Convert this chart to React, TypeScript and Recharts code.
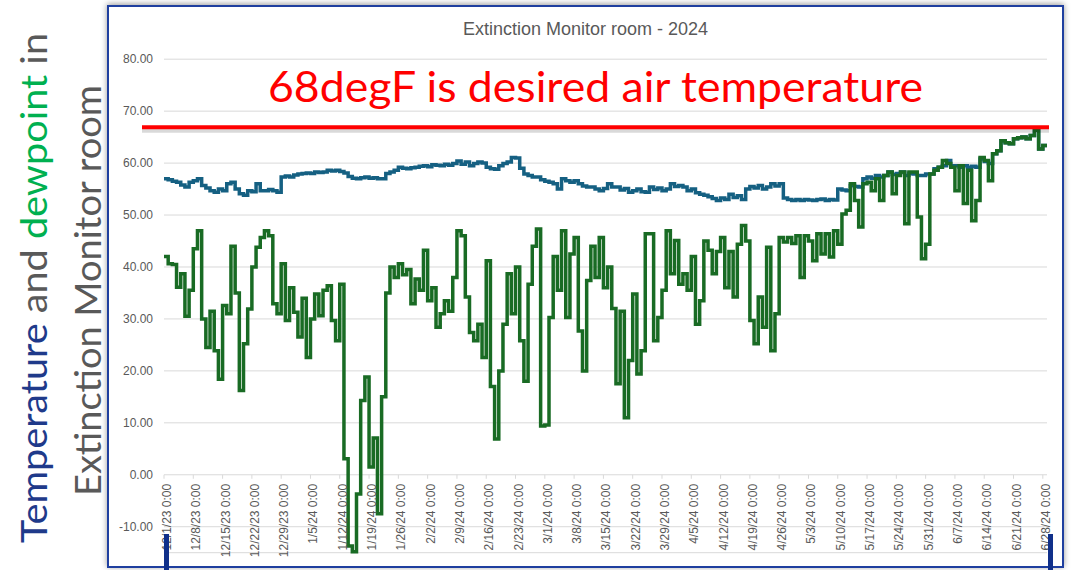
import { CartesianGrid, Line, LineChart, ReferenceLine, XAxis, YAxis } from 'recharts'

// weekly x-axis labels, one every 7 days from 12/1/23
const TICK_LABELS = [
	'12/1/23 0:00', '12/8/23 0:00', '12/15/23 0:00', '12/22/23 0:00', '12/29/23 0:00',
	'1/5/24 0:00', '1/12/24 0:00', '1/19/24 0:00', '1/26/24 0:00', '2/2/24 0:00',
	'2/9/24 0:00', '2/16/24 0:00', '2/23/24 0:00', '3/1/24 0:00', '3/8/24 0:00',
	'3/15/24 0:00', '3/22/24 0:00', '3/29/24 0:00', '4/5/24 0:00', '4/12/24 0:00',
	'4/19/24 0:00', '4/26/24 0:00', '5/3/24 0:00', '5/10/24 0:00', '5/17/24 0:00',
	'5/24/24 0:00', '5/31/24 0:00', '6/7/24 0:00', '6/14/24 0:00', '6/21/24 0:00',
	'6/28/24 0:00',
]

const Y_TICKS = [-10, 0, 10, 20, 30, 40, 50, 60, 70, 80]

// daily readings (degF), one row per week starting 12/1/23
const TEMPERATURE = [
	57, 56.8, 56.5, 56.3, 55.8, 55.4, 56.3,
	56.6, 57, 55.7, 55.2, 54.7, 54.4, 55,
	54.7, 56, 56.3, 55, 54.1, 53.8, 54.7,
	54.5, 56, 54.7, 54.7, 54.9, 54.7, 54.4,
	57.3, 57.5, 57.3, 57.7, 57.9, 58, 58.1,
	58, 58.3, 58.2, 58.3, 58.6, 58.5, 58.6,
	58.4, 58.1, 57.4, 57.1, 57, 57.2, 57.3,
	57.1, 57.2, 57, 57, 58, 58.3, 58.6,
	59.2, 59, 58.9, 59.1, 59.2, 59.4, 59.5,
	59.3, 59.7, 59.6, 59.5, 59.8, 59.6, 59.9,
	60.4, 59.8, 60.2, 59.5, 59.9, 60.2, 60,
	59.2, 58.9, 58.8, 59.5, 59.9, 60.2, 61.1,
	61, 59, 57.9, 57.6, 57.3, 57.3, 56.8,
	56.5, 56.3, 56, 55, 57, 56.6, 56.3,
	56.6, 56, 55.6, 55.4, 55.4, 55, 54.7,
	55.1, 56, 55.4, 55.4, 54.8, 55.1, 54.4,
	54.7, 55, 54.5, 54.4, 55.4, 54.9, 55.2,
	54.7, 55, 56, 55.5, 55.7, 55.4, 54.7,
	55, 54.3, 54, 53.8, 53.5, 53.2, 52.8,
	53.3, 53, 54, 53.4, 53.7, 53, 55,
	55.5, 55.2, 55.7, 55, 55.4, 56, 55.6,
	56, 53.3, 53, 52.8, 53, 52.8, 53,
	52.9, 52.8, 53, 53.1, 52.8, 53, 52.9,
	55, 54.8, 54.7, 55.7, 55.5, 55.4, 57,
	57.3, 57.1, 57.6, 57.3, 57.6, 58.3, 57.8,
	58, 58.3, 57.6, 58, 57.9, 57.6, 57.6,
	57.9, 57.9, 58.9, 59.2, 59.5, 60.5, 59.5,
	59.5, 59.2, 59.5, 59.2, 59.4, 59.2, 60.8,
	60.3, 59.9, 61.8, 62.4, 64.3, 63.9, 63.7,
	64.7, 64.9, 65, 64.7, 65.3, 66.3, 62.7,
	63.4, 63.4,
]

const DEWPOINT = [
	42, 40.6, 40.5, 36.1, 38.7, 30.5, 35.5,
	43.5, 47, 30, 24.5, 31.5, 23.9, 18.4,
	32.6, 31, 44, 35, 16.2, 25.2, 31.9,
	40, 43.8, 45.7, 47, 46, 32.9, 31,
	40.6, 29.7, 36, 31.3, 26.5, 34, 22.6,
	30, 34.8, 30.6, 35.5, 36.4, 29.7, 25.8,
	36.7, 3.1, -13.7, -14.8, -3.7, 14.3, 18.8,
	1.5, 7.1, -7.5, 15, 35, 40, 38,
	40.6, 38.5, 39.5, 32.9, 37.7, 35.5, 43.2,
	33.5, 36, 28.4, 31, 33.5, 31.5, 38,
	47, 46, 34.2, 27.4, 25.8, 29, 22.6,
	41.2, 17, 6.9, 20, 29, 38.7, 31,
	40, 25.8, 18, 36.7, 44, 47.3, 9.4,
	9.6, 30.3, 42, 35.5, 47, 30.3, 42.5,
	45.7, 27.7, 20, 37.4, 44, 38, 45.7,
	36, 40, 32, 17.5, 31.5, 11, 22,
	34.8, 19.4, 23.9, 46.4, 46.4, 25.8, 30.3,
	35.5, 47, 38.7, 45.1, 36.7, 38.7, 35.5,
	42, 29, 33.5, 45, 43.2, 38.7, 43,
	45.7, 36, 43, 34.2, 44.4, 48, 45,
	29.7, 25.2, 34.2, 28.4, 43.8, 23.9, 31,
	45.7, 44.8, 45.7, 44.5, 46, 38, 46,
	45, 41.2, 46.4, 42.5, 46.4, 41.9, 47,
	44.4, 50.2, 50.9, 56, 52.8, 47.7, 56,
	56.3, 54.7, 57, 52.8, 57.6, 58.3, 54.1,
	57.6, 58.3, 48.3, 58.3, 58.3, 49.6, 41.6,
	44.4, 57.9, 58.6, 59.2, 60.5, 59.9, 59.2,
	54.7, 59.5, 52.2, 58.6, 48.9, 52.8, 61.1,
	60.5, 56.6, 61.8, 62.4, 64.3, 63.9, 63.7,
	64.7, 64.9, 65, 64.7, 65.3, 66.3, 62.7,
	63.4, 63.4,
]

const DESIRED_LINE = 66.9

const WIDTH = 1071
const HEIGHT = 570
const Y_MIN = -15
const Y_MAX = 80
const X_AXIS_H = 1
const MARGIN = { top: 59.2, right: 24, bottom: 16.3, left: 0 }
const PLOT_H = HEIGHT - MARGIN.top - MARGIN.bottom - X_AXIS_H
// distance from the plot bottom up to the 0.00 line, where Excel put the date axis
const ZERO_RISE = (PLOT_H * (0 - Y_MIN)) / (Y_MAX - Y_MIN)

const AXIS_FONT = '"Liberation Sans", Arial, sans-serif'
const SLIDE_FONT = 'Lato, "Open Sans", sans-serif'
const GRAY = '#595959'

const chartData = TEMPERATURE.map((temperature, day) => ({
	day,
	temperature,
	dewpoint: DEWPOINT[day],
}))

const tickDays = TICK_LABELS.map((_, i) => i * 7)

function DateTick({ x, y, payload }: any) {
	const zeroY = y - ZERO_RISE
	const label = TICK_LABELS[Math.round(payload.value / 7)]
	return (
		<g>
			<line x1={x} x2={x} y1={zeroY} y2={zeroY + 4} stroke="#d9d9d9" />
			<text
				transform={`translate(${x + 7},${zeroY + 9}) rotate(-90)`}
				textAnchor="end"
				fontSize={12}
				fontFamily={AXIS_FONT}
				fill={GRAY}
			>
				{label}
			</text>
		</g>
	)
}

function RedLine(p: any) {
	return (
		<g>
			<line x1={p.x1 - 22} x2={p.x2 + 2} y1={p.y1 + 3} y2={p.y2 + 3} stroke="#000" strokeOpacity={0.15} strokeWidth={5} />
			<line x1={p.x1 - 22} x2={p.x2 + 2} y1={p.y1} y2={p.y2} stroke="#ff0000" strokeWidth={4} />
		</g>
	)
}

export default function App() {
	return (
		<div style={{ position: 'absolute', left: 0, top: 0, width: WIDTH, height: HEIGHT, background: '#fff', overflow: 'hidden' }}>
			<div
				style={{
					position: 'absolute',
					left: 107,
					top: 5,
					width: 957,
					height: 563,
					boxSizing: 'border-box',
					border: '2px solid #1f3f9f',
					boxShadow: '0 -1px 6px rgba(0,0,0,0.4)',
					background: '#fff',
				}}
			/>
			<div style={{ position: 'absolute', left: 0, top: 0 }}>
				<LineChart width={WIDTH} height={HEIGHT} data={chartData} margin={MARGIN}>
					<CartesianGrid vertical={false} stroke="#d9d9d9" />
					<XAxis
						dataKey="day"
						type="number"
						domain={[0, 211]}
						ticks={tickDays}
						tick={DateTick}
						axisLine={false}
						tickLine={false}
						tickSize={0}
						tickMargin={0}
						height={X_AXIS_H}
						interval={0}
					/>
					<YAxis
						type="number"
						domain={[Y_MIN, Y_MAX]}
						ticks={Y_TICKS}
						width={164}
						axisLine={false}
						tickLine={false}
						tickSize={0}
						tickMargin={11}
						tickFormatter={(v: number) => v.toFixed(2)}
						tick={{ fill: GRAY, fontSize: 12, fontFamily: AXIS_FONT }}
						interval={0}
					/>
					<Line
						dataKey="temperature"
						type="stepAfter"
						stroke="#156082"
						strokeWidth={3.5}
						dot={false}
						isAnimationActive={false}
					/>
					<Line
						dataKey="dewpoint"
						type="stepAfter"
						stroke="#196b24"
						strokeWidth={3.5}
						dot={false}
						isAnimationActive={false}
					/>
					<ReferenceLine y={DESIRED_LINE} shape={RedLine} />
				</LineChart>
			</div>
			<svg width={WIDTH} height={HEIGHT} style={{ position: 'absolute', left: 0, top: 0, pointerEvents: 'none' }}>
				<text x={585.5} y={35} textAnchor="middle" fontSize={18} fontFamily={AXIS_FONT} fill={GRAY}>
					Extinction Monitor room - 2024
				</text>
				<text x={268} y={102} fontSize={42} fontFamily={SLIDE_FONT} fill="#ff0000" textLength={655} lengthAdjust="spacingAndGlyphs">
					68degF is desired air temperature
				</text>
				<text transform="translate(47,543) rotate(-90)" fontSize={37.5} fontFamily={SLIDE_FONT} textLength={510} lengthAdjust="spacingAndGlyphs">
					<tspan fill="#1f3a8a">Temperature</tspan>
					<tspan fill={GRAY}> and </tspan>
					<tspan fill="#00b050">dewpoint</tspan>
					<tspan fill={GRAY}> in</tspan>
				</text>
				<text transform="translate(101,496) rotate(-90)" fontSize={37.5} fontFamily={SLIDE_FONT} fill={GRAY} textLength={411} lengthAdjust="spacingAndGlyphs">
					Extinction Monitor room
				</text>
			</svg>
			<div style={{ position: 'absolute', left: 163.5, top: 534, width: 5, height: 36, background: '#10308a' }} />
			<div style={{ position: 'absolute', left: 1047.5, top: 534, width: 5, height: 36, background: '#10308a' }} />
		</div>
	)
}
